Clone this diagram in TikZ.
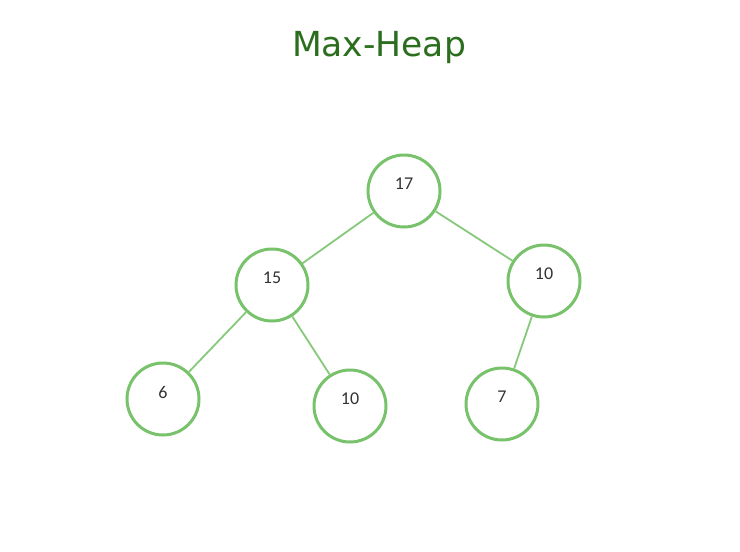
\documentclass[tikz,border=0pt]{standalone}
\usepackage{fontspec}
\setmainfont{Carlito}
\newfontfamily\titlefont{DejaVu Sans}
\definecolor{titlegreen}{HTML}{2A6E1E}
\definecolor{ringgreen}{HTML}{77C26B}
\definecolor{edgegreen}{HTML}{86C97A}
\definecolor{numgray}{HTML}{333333}
\begin{document}
\begin{tikzpicture}[x=1pt,y=-1pt,
  heapnode/.style={circle,draw=ringgreen,line width=3pt,minimum size=72pt,inner sep=0pt,fill=white},
  numtext/.style={font=\fontsize{18}{20}\selectfont,text=numgray},
  edge/.style={draw=edgegreen,line width=1.8pt}]
\useasboundingbox (0,0) rectangle (740,552);
\fill[white] (0,0) rectangle (740,552);
\node[font=\titlefont\fontsize{34.5}{40}\selectfont,text=titlegreen] (title) at (379,48) {Max-Heap};
\node[heapnode] (n17) at (404,191) {};
\node[heapnode] (n15) at (272,285) {};
\node[heapnode] (n10a) at (544,281) {};
\node[heapnode] (n6) at (163,399) {};
\node[heapnode] (n10b) at (350,406) {};
\node[heapnode] (n7) at (502,404) {};
\node[numtext] at ([yshift=7pt]n17.center) {17};
\node[numtext] at ([yshift=7pt]n15.center) {15};
\node[numtext] at ([yshift=7pt]n10a.center) {10};
\node[numtext] at ([yshift=7pt]n6.center) {6};
\node[numtext] at ([yshift=7pt]n10b.center) {10};
\node[numtext] at ([yshift=7pt]n7.center) {7};
\draw[edge] (n17) -- (n15);
\draw[edge] (n17) -- (n10a);
\draw[edge] (n15) -- (n6);
\draw[edge] (n15) -- (n10b);
\draw[edge] (n10a) -- (n7);
\end{tikzpicture}
\end{document}
